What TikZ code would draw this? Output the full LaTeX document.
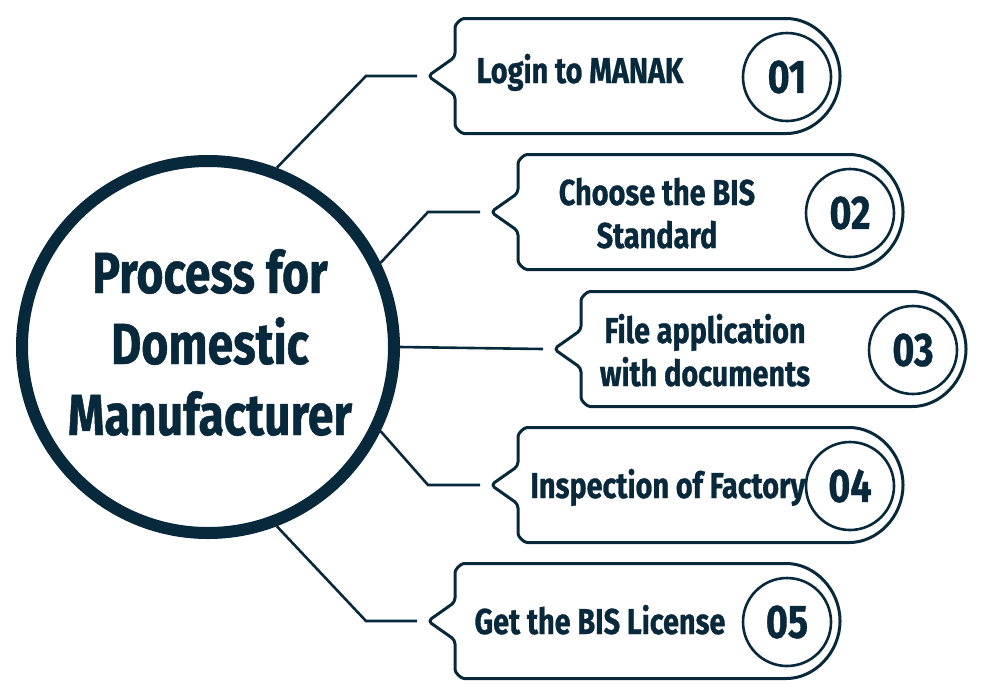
\documentclass[tikz,border=0pt]{standalone}
\usepackage{fontspec}
\newfontfamily\cf{Fira Sans}[FakeStretch=0.8, FakeBold=0.8]
\definecolor{navy}{HTML}{08293B}
\newcommand\stepshape[2]{% #1 = left x, #2 = centre y
  \draw[boxline] ({#1-27},#2) -- (#1,{#2-19}) -- (#1,{#2-44.5})
    arc[start angle=180,end angle=270,radius=13] -- ({#1+327.5},{#2-57.5})
    arc[start angle=-90,end angle=90,radius=57.5] -- ({#1+13},{#2+57.5})
    arc[start angle=90,end angle=180,radius=13] -- (#1,{#2+19}) -- cycle;}
\begin{document}
\begin{tikzpicture}[x=1pt,y=-1pt,
  conn/.style={draw=navy, line width=2.6pt},
  boxline/.style={draw=navy, line width=3pt, fill=white, line join=round, rounded corners=4pt},
  numcirc/.style={circle, draw=navy, line width=2.6pt, minimum size=88pt, inner sep=0pt,
     font=\cf\bfseries\fontsize{47}{47}\selectfont, text=navy},
  boxtext/.style={font=\cf\bfseries\fontsize{36}{43}\selectfont, text=navy, inner sep=0pt, anchor=base},
  titletext/.style={font=\cf\bfseries\fontsize{58}{70}\selectfont, text=navy, inner sep=0pt, anchor=base}]
\useasboundingbox[fill=white] (0,0) rectangle (981,686);

% boxes
\stepshape{455}{76}
\stepshape{518}{212}
\stepshape{581}{349}
\stepshape{518}{485}
\stepshape{455}{621}

% pointer tips (connector targets)
\coordinate (p1) at (428,76);
\coordinate (p2) at (491,212);
\coordinate (p3) at (554,349);
\coordinate (p4) at (491,485);
\coordinate (p5) at (428,621);

% main circle
\node[circle, draw=navy, line width=12pt, minimum size=372pt, inner sep=0pt] (main) at (208,347) {};
\node[titletext] (t1) at (210,293) {Process for};
\node[titletext] (t2) at (210,364) {Domestic};
\node[titletext] (t3) at (210,435) {Manufacturer};

% connectors
\coordinate (c1) at (366,76);
\coordinate (c2) at (428,212);
\coordinate (c4) at (428,485);
\coordinate (c5) at (366,621);
\draw[conn] (main.69.5) -- (c1) -- ([xshift=-11pt]p1);
\draw[conn] (main.26.8) -- (c2) -- ([xshift=-11pt]p2);
\draw[conn] (main.0) -- ([xshift=-11pt]p3);
\draw[conn] (main.-26.8) -- (c4) -- ([xshift=-11pt]p4);
\draw[conn] (main.-69.5) -- (c5) -- ([xshift=-11pt]p5);

% box texts
\node[boxtext] (b1) at (580,83) {Login to MANAK};
\node[boxtext] (b2a) at (657,205) {Choose the BIS};
\node[boxtext] (b2b) at (657,248) {Standard};
\node[boxtext] (b3a) at (705,343) {File application};
\node[boxtext] (b3b) at (705,386) {with documents};
\node[boxtext] (b4) at (668,498) {Inspection of Factory};
\node[boxtext] (b5) at (600,634) {Get the BIS License};

% number circles
\node[numcirc] (n1) at (787,77) {01};
\node[numcirc] (n2) at (850,213) {02};
\node[numcirc] (n3) at (913,350) {03};
\node[numcirc] (n4) at (850,486) {04};
\node[numcirc] (n5) at (787,622) {05};
\end{tikzpicture}
\end{document}
